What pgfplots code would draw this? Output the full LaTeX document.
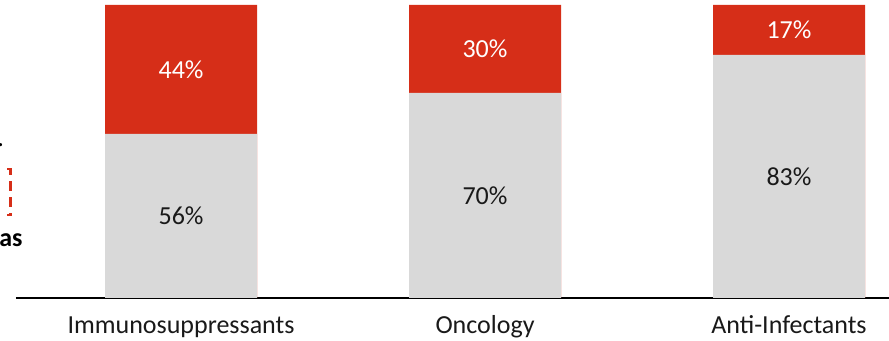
\documentclass[border=0pt]{standalone}
\usepackage{pgfplots}
\pgfplotsset{compat=1.18}
\usepackage{fontspec}
\setmainfont{Carlito}
\definecolor{barred}{RGB}{214,46,24}
\definecolor{bargray}{RGB}{217,217,217}
\begin{document}
\begin{tikzpicture}[lbl/.style={font=\fontsize{13}{15}\selectfont}]
\useasboundingbox (0,0) rectangle (444.5pt,170.5pt);
\begin{axis}[
    at={(8pt,21.5pt)}, anchor=south west,
    scale only axis, width=436.5pt, height=146.5pt,
    ybar, bar width=76pt, bar shift=0pt,
    xmin=-0.543, xmax=2.329, ymin=0, ymax=100,
    axis x line=bottom, axis y line=none,
    axis line style={-, line width=1.1pt, black},
    xtick={0,1,2}, major tick length=0pt,
    xticklabels={Immunosuppressants, Oncology, Anti-Infectants},
    xticklabel style={anchor=base, yshift=-18pt, font=\fontsize{13}{15}\selectfont, text=black!90},
    clip=false,
]
% red share drawn as full column (44+56, 30+70, 17+83), grey share over it
\addplot[fill=barred, draw=none] coordinates {(0,100) (1,100) (2,100)};
\addplot[fill=bargray, draw=none] coordinates {(0,56) (1,70) (2,83)};
\node[lbl, text=black!90] at (axis cs:0,28) {56\%};
\node[lbl, text=black!90] at (axis cs:1,35) {70\%};
\node[lbl, text=black!90] at (axis cs:2,41.5) {83\%};
\node[lbl, text=white] at (axis cs:0,78) {44\%};
\node[lbl, text=white] at (axis cs:1,85) {30\%};
\node[lbl, text=white] at (axis cs:2,91.5) {17\%};
\end{axis}
% fragments of neighbouring slide content at the left edge
\draw[barred, line width=1.2pt, dash pattern=on 5pt off 3pt]
  (3.5pt,86pt) -- (5.25pt,86pt) -- (5.25pt,63pt) -- (3.5pt,63pt);
\node[anchor=west, inner sep=0pt, font=\fontsize{13}{15}\selectfont\bfseries] at (-0.5pt,50.5pt) {as};
\node[anchor=west, inner sep=0pt, lbl] at (-1.5pt,98pt) {.};
\end{tikzpicture}
\end{document}
